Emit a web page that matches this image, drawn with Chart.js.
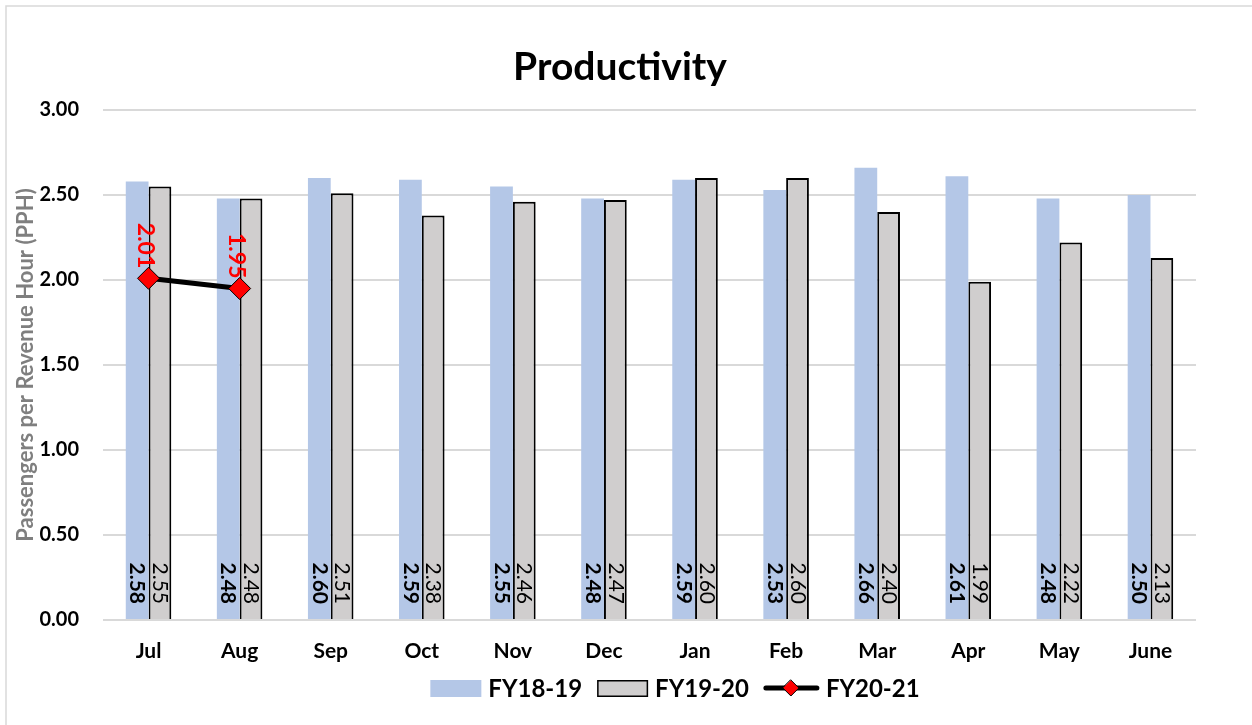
<!DOCTYPE html>
<html>
<head>
<meta charset="utf-8">
<script src="https://cdn.jsdelivr.net/npm/chart.js@4"></script>
<style>
  html, body { margin: 0; padding: 0; background: #fff; }
  #wrap { width: 1252px; height: 725px; }
</style>
</head>
<body>
<div id="wrap"><canvas id="myChart" width="1252" height="725"></canvas></div>
<script>
    const months = ['Jul', 'Aug', 'Sep', 'Oct', 'Nov', 'Dec', 'Jan', 'Feb', 'Mar', 'Apr', 'May', 'June'];
    const fy1819 = [2.58, 2.48, 2.60, 2.59, 2.55, 2.48, 2.59, 2.53, 2.66, 2.61, 2.48, 2.50];
    const fy1920 = [2.55, 2.48, 2.51, 2.38, 2.46, 2.47, 2.60, 2.60, 2.40, 1.99, 2.22, 2.13];
    const fy2021 = [2.01, 1.95, null, null, null, null, null, null, null, null, null, null];

    const FONT = 'Lato, "Open Sans", sans-serif';
    const BLUE = '#b4c7e7';
    const GREY = '#d0cece';

    // legend keys, drawn the way the spreadsheet draws them
    function drawKey(g, kind, x, y) {
        if (kind === 0) {
            g.fillStyle = BLUE;
            g.fillRect(x, y - 8, 51, 17);
        } else if (kind === 1) {
            g.fillStyle = GREY;
            g.fillRect(x, y - 8, 51, 17);
            g.strokeStyle = '#000';
            g.lineWidth = 1.5;
            g.strokeRect(x + 0.75, y - 7.25, 49.5, 15.5);
        } else {
            g.strokeStyle = '#000';
            g.lineWidth = 5;
            g.lineCap = 'round';
            g.beginPath(); g.moveTo(x + 2, y); g.lineTo(x + 53, y); g.stroke();
            g.fillStyle = '#ff0000';
            g.lineWidth = 1;
            g.beginPath();
            g.moveTo(x + 27, y - 8); g.lineTo(x + 35, y); g.lineTo(x + 27, y + 8); g.lineTo(x + 19, y); g.closePath();
            g.fill(); g.stroke();
        }
    }

    const decor = {
        id: 'decor',
        beforeDraw(chart) {
            const c = chart.ctx;
            c.save();
            c.strokeStyle = '#d9d9d9';
            c.lineWidth = 1.5;
            c.beginPath();
            c.moveTo(6, 730); c.lineTo(6, 6); c.lineTo(1260, 6);
            c.stroke();
            c.restore();
        },
        afterDraw(chart) {
            const c = chart.ctx;
            c.save();
            // title
            c.fillStyle = '#000';
            c.font = 'bold 39px ' + FONT;
            c.textAlign = 'center';
            c.textBaseline = 'middle';
            c.fillText('Productivity', 620, 67);
            // legend
            c.font = 'bold 24px ' + FONT;
            c.textAlign = 'left';
            const names = chart.data.datasets.map(d => d.label);
            const keyW = [51, 51, 55];
            let total = 0;
            names.forEach((n, i) => { total += keyW[i] + 7 + c.measureText(n).width + (i < 2 ? 15 : 0); });
            let x = 675 - total / 2;
            const y = 688;
            names.forEach((n, i) => {
                drawKey(c, i, x, y);
                x += keyW[i] + 7;
                c.fillStyle = '#000';
                c.fillText(n, x, y + 1);
                x += c.measureText(n).width + 15;
            });
            c.restore();
        }
    };

    const valueLabels = {
        id: 'valueLabels',
        afterDatasetsDraw(chart) {
            const c = chart.ctx;
            const base = chart.chartArea.bottom;
            c.save();
            chart.data.datasets.forEach((ds, i) => {
                const meta = chart.getDatasetMeta(i);
                meta.data.forEach((el, j) => {
                    const v = ds.data[j];
                    if (v === null || v === undefined) return;
                    let x, y;
                    if (ds.type === 'line') {
                        c.font = 'bold 23px ' + FONT;
                        c.fillStyle = '#ff0000';
                        x = el.x - 3; y = el.y - 10;
                    } else {
                        c.font = (i === 0 ? 'bold ' : '') + '21px ' + FONT;
                        c.fillStyle = '#000';
                        x = el.x; y = base - 16;
                    }
                    c.save();
                    c.translate(x, y);
                    c.rotate(Math.PI / 2);
                    c.textAlign = 'right';
                    c.textBaseline = 'middle';
                    c.fillText(v.toFixed(2), 0, 0);
                    c.restore();
                });
            });
            c.restore();
        }
    };

    const ctx = document.getElementById('myChart').getContext('2d');
    const myChart = new Chart(ctx, {
        type: 'bar',
        data: {
            labels: months,
            datasets: [{
                label: 'FY18-19',
                data: fy1819,
                backgroundColor: BLUE,
                borderWidth: 0,
                order: 1
            }, {
                label: 'FY19-20',
                data: fy1920,
                backgroundColor: GREY,
                borderColor: '#000',
                borderWidth: 2,
                order: 1
            }, {
                type: 'line',
                label: 'FY20-21',
                data: fy2021,
                borderColor: '#000',
                borderWidth: 5,
                pointStyle: 'rectRot',
                pointRadius: 11,
                pointBackgroundColor: '#ff0000',
                pointBorderColor: '#000',
                pointBorderWidth: 1,
                spanGaps: false,
                order: 0
            }]
        },
        options: {
            responsive: false,
            animation: false,
            layout: { padding: { top: 110, left: 13, right: 56, bottom: 55 } },
            datasets: { bar: { categoryPercentage: 0.5, barPercentage: 1 } },
            plugins: {
                title: { display: false },
                legend: { display: false },
                tooltip: { enabled: false }
            },
            scales: {
                x: {
                    grid: { display: false },
                    border: { display: false },
                    ticks: {
                        color: '#000',
                        font: { family: FONT, size: 21, weight: 'bold' },
                        padding: 11
                    },
                    afterFit(scale) { scale.height = 50; }
                },
                y: {
                    min: 0,
                    max: 3,
                    grid: { color: '#d9d9d9', lineWidth: 2, drawTicks: false },
                    border: { display: false },
                    ticks: {
                        stepSize: 0.5,
                        color: '#000',
                        padding: 24,
                        font: { family: FONT, size: 20, weight: 'bold' },
                        callback: (v) => v.toFixed(2)
                    },
                    title: {
                        display: true,
                        text: 'Passengers per Revenue Hour (PPH)',
                        color: '#7f7f7f',
                        font: { family: FONT, size: 22, weight: 'bold' },
                        padding: 0
                    },
                    afterFit(scale) { scale.width = 90; }
                }
            }
        },
        plugins: [decor, valueLabels]
    });
</script>
</body>
</html>
